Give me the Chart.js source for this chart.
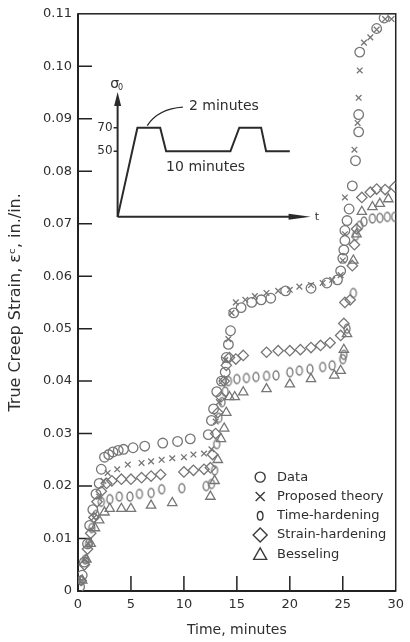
<!DOCTYPE html>
<html><head><meta charset="utf-8">
<script src="https://cdn.jsdelivr.net/npm/chart.js@4.4.1/dist/chart.umd.min.js"></script>
<style>html,body{margin:0;padding:0;background:#fff}canvas{display:block}</style>
</head><body>
<canvas id="c" width="410" height="642"></canvas>
<script>
// ---------- tick labels ----------
const xTickValues = [0, 5, 10, 15, 20, 25, 30];
const xTickLabels = ['0', '5', '10', '15', '20', '25', '30'];
const yTickValues = [0, 0.01, 0.02, 0.03, 0.04, 0.05, 0.06, 0.07, 0.08, 0.09, 0.10, 0.11];
const yTickLabels = ['0', '0.01', '0.02', '0.03', '0.04', '0.05', '0.06', '0.07', '0.08', '0.09', '0.10', '0.11'];

// ---------- series names ----------
const seriesNames = ['Data', 'Proposed theory', 'Time-hardening', 'Strain-hardening', 'Besseling'];

// ---------- series values [time (min), strain] ----------
const dataPoints = [
  [0.15,0.0008],[0.4,0.003],[0.6,0.0055],[0.9,0.009],[1.1,0.0125],[1.4,0.0155],[1.7,0.0185],[2.0,0.0205],
  [2.2,0.0232],[2.5,0.0255],[2.9,0.026],[3.3,0.0265],[3.8,0.0268],[4.3,0.027],[5.2,0.0273],[6.3,0.0276],
  [8.0,0.0282],[9.4,0.0285],[10.6,0.029],[12.3,0.0298],[12.6,0.0325],[12.8,0.0347],[13.1,0.038],[13.55,0.040],
  [13.9,0.0417],[14.0,0.0445],[14.2,0.047],[14.4,0.0496],[14.7,0.053],[15.4,0.054],[16.4,0.055],[17.3,0.0555],
  [18.2,0.0558],[19.6,0.0572],[22.0,0.0577],[23.5,0.0587],[24.5,0.0593],[24.8,0.061],[25.0,0.0634],[25.1,0.065],
  [25.2,0.0668],[25.2,0.0687],[25.4,0.0706],[25.6,0.0728],[25.9,0.0772],[26.2,0.082],[26.5,0.0875],[26.5,0.0908],
  [26.6,0.1027],[28.2,0.1072],[28.9,0.1092]
];
const theoryPoints = [
  [0.3,0.002],[0.7,0.006],[1.0,0.009],[1.5,0.014],[2.0,0.018],[2.4,0.021],[2.8,0.0225],[3.7,0.0232],
  [4.7,0.0241],[6.0,0.0244],[6.9,0.0247],[7.9,0.025],[8.9,0.0253],[10.0,0.0255],[10.9,0.026],[11.9,0.0262],
  [12.6,0.027],[13.0,0.0323],[13.3,0.036],[13.6,0.040],[13.9,0.044],[14.2,0.048],[14.5,0.053],[14.9,0.055],
  [15.8,0.0555],[16.7,0.0562],[17.8,0.0568],[18.9,0.0572],[20.0,0.0574],[20.9,0.058],[22.0,0.0583],[23.1,0.0587],
  [24.0,0.0593],[24.8,0.0602],[25.0,0.063],[25.2,0.068],[25.2,0.075],[26.1,0.0841],[26.4,0.0892],[26.5,0.094],
  [26.6,0.0992],[27.0,0.1045],[27.6,0.1055],[28.2,0.107],[29.0,0.109],[29.6,0.109]
];
const timeHardeningPoints = [
  [0.3,0.002],[0.7,0.006],[1.0,0.009],[1.3,0.012],[1.7,0.0145],[2.2,0.017],[3.0,0.0175],[3.9,0.018],
  [4.9,0.018],[5.8,0.0185],[6.9,0.0187],[7.9,0.0194],[9.8,0.0196],[12.1,0.020],[12.6,0.0204],[12.9,0.023],
  [13.1,0.028],[13.3,0.033],[13.6,0.036],[13.9,0.038],[14.2,0.040],[15.0,0.0404],[15.9,0.0406],[16.8,0.0408],
  [17.8,0.041],[18.7,0.0411],[20.0,0.0417],[20.9,0.042],[21.9,0.0423],[23.1,0.0427],[24.0,0.043],[25.0,0.0442],
  [25.1,0.045],[25.4,0.050],[26.0,0.0568],[26.2,0.0677],[26.6,0.0696],[27.0,0.0704],[27.8,0.071],[28.5,0.0711],
  [29.2,0.0713],[29.9,0.0713]
];
const strainHardeningPoints = [
  [0.3,0.002],[0.6,0.005],[0.9,0.008],[1.2,0.011],[1.5,0.014],[1.8,0.017],[2.2,0.019],[2.7,0.0205],
  [3.2,0.021],[4.1,0.0213],[5.0,0.0213],[6.0,0.0216],[6.9,0.0219],[7.8,0.0222],[10.0,0.0227],[10.9,0.023],
  [11.9,0.0232],[12.5,0.0235],[12.7,0.026],[13.0,0.030],[13.2,0.034],[13.5,0.037],[13.8,0.040],[14.0,0.043],
  [14.3,0.0445],[14.9,0.0442],[15.6,0.0449],[17.8,0.0455],[18.9,0.0458],[20.0,0.0458],[21.0,0.046],[22.0,0.0464],
  [22.9,0.0468],[23.8,0.0473],[24.8,0.0487],[25.1,0.051],[25.2,0.055],[25.7,0.0555],[25.9,0.062],[26.1,0.066],
  [26.3,0.069],[26.8,0.075],[27.6,0.076],[28.2,0.0766],[29.0,0.0765],[29.9,0.077]
];
const besselingPoints = [
  [0.4,0.002],[0.8,0.006],[1.2,0.009],[1.6,0.012],[2.0,0.0135],[2.5,0.015],[3.0,0.0157],[4.1,0.0157],
  [5.0,0.0157],[6.9,0.0163],[8.9,0.0168],[12.5,0.018],[12.9,0.021],[13.2,0.025],[13.5,0.029],[13.8,0.031],
  [14.0,0.034],[14.3,0.037],[14.8,0.037],[15.6,0.0379],[17.8,0.0385],[20.0,0.0394],[22.0,0.0404],[24.2,0.0411],
  [24.8,0.042],[25.1,0.046],[25.4,0.049],[26.0,0.063],[26.3,0.068],[26.8,0.0723],[27.8,0.0732],[28.5,0.0738],
  [29.3,0.0747]
];

// ---------- styles ----------
const FONT = 'DejaVu Sans';
const TEXT = '#2e2e2e';
const MARK = '#767676';

function ellipseMarker(w, h, lw) {
  const c = document.createElement('canvas');
  c.width = w + 4; c.height = h + 4;
  const g = c.getContext('2d');
  g.strokeStyle = MARK; g.lineWidth = lw;
  g.beginPath(); g.ellipse(c.width / 2, c.height / 2, w / 2, h / 2, 0, 0, Math.PI * 2); g.stroke();
  return c;
}
const thMarker = ellipseMarker(6, 9, 1.3);

const toXY = arr => arr.map(p => ({x: p[0], y: p[1]}));
function ds(label, pts, style, r) {
  return {label, data: toXY(pts), pointStyle: style, pointRadius: r, pointHoverRadius: r,
    borderColor: MARK, backgroundColor: 'rgba(0,0,0,0)', pointBorderWidth: 1.3, showLine: false};
}

// ---------- inset geometry (in main-axis units: minutes, strain) ----------
const inset = {
  origin: [3.74, 0.0713], yTop: 0.0951, xEnd: 21.96,
  path: [[3.74,0.0713],[5.61,0.0883],[7.76,0.0883],[8.32,0.0838],[14.39,0.0838],[15.23,0.0883],[17.29,0.0883],[17.76,0.0838],[20.0,0.0838]],
  levels: [[0.0883,'70'],[0.0838,'50']]
};

const decor = {
  id: 'decor',
  beforeDatasetsDraw(chart) {
    const {ctx, chartArea: a, scales: {x, y}} = chart;
    const P = (m, s) => [x.getPixelForValue(m), y.getPixelForValue(s)];
    ctx.save();
    ctx.strokeStyle = '#222'; ctx.lineCap = 'butt';
    // inner ticks
    ctx.lineWidth = 1.5; ctx.beginPath();
    xTickValues.slice(1, -1).forEach(v => { const px = x.getPixelForValue(v); ctx.moveTo(px, a.bottom); ctx.lineTo(px, a.bottom - 15); });
    yTickValues.slice(1, -1).forEach(v => { const py = y.getPixelForValue(v); ctx.moveTo(a.left, py); ctx.lineTo(a.left + 14, py); });
    ctx.stroke();
    // frame
    ctx.lineWidth = 1.5; ctx.strokeRect(a.left, a.top, a.right - a.left, a.bottom - a.top);
    ctx.lineWidth = 2; ctx.beginPath(); ctx.moveTo(a.left, a.top); ctx.lineTo(a.left, a.bottom); ctx.lineTo(a.right, a.bottom); ctx.stroke();

    // inset
    const o = P(inset.origin[0], inset.origin[1]);
    const top = P(inset.origin[0], inset.yTop);
    const end = P(inset.xEnd, inset.origin[1]);
    ctx.strokeStyle = '#2a2a2a'; ctx.fillStyle = '#2a2a2a'; ctx.lineWidth = 2;
    ctx.beginPath(); ctx.moveTo(o[0], o[1]); ctx.lineTo(top[0], top[1] + 10); ctx.stroke();
    ctx.beginPath(); ctx.moveTo(top[0], top[1]); ctx.lineTo(top[0] - 3.5, top[1] + 14); ctx.lineTo(top[0] + 3.5, top[1] + 14); ctx.closePath(); ctx.fill();
    ctx.beginPath(); ctx.moveTo(o[0], o[1]); ctx.lineTo(end[0] - 12, end[1]); ctx.stroke();
    ctx.beginPath(); ctx.moveTo(end[0], end[1]); ctx.lineTo(end[0] - 22, end[1] - 3); ctx.lineTo(end[0] - 22, end[1] + 3); ctx.closePath(); ctx.fill();
    ctx.beginPath();
    inset.path.forEach((p, i) => { const q = P(p[0], p[1]); if (i) ctx.lineTo(q[0], q[1]); else ctx.moveTo(q[0], q[1]); });
    ctx.stroke();
    ctx.lineWidth = 1.5; ctx.beginPath();
    inset.levels.forEach(l => { const q = P(inset.origin[0], l[0]); ctx.moveTo(q[0] - 4, q[1]); ctx.lineTo(q[0], q[1]); });
    ctx.stroke();
    // leader line for "2 minutes"
    const l1 = P(6.54, 0.0887), l2 = P(9.9, 0.0922), lc = P(7.6, 0.0919);
    ctx.lineWidth = 1.3; ctx.beginPath(); ctx.moveTo(l1[0], l1[1]); ctx.quadraticCurveTo(lc[0], lc[1], l2[0], l2[1]); ctx.stroke();

    ctx.fillStyle = TEXT; ctx.textBaseline = 'middle';
    ctx.font = '12px "' + FONT + '"'; ctx.textAlign = 'right';
    inset.levels.forEach(l => { const q = P(inset.origin[0], l[0]); ctx.fillText(l[1], q[0] - 5, q[1]); });
    ctx.textAlign = 'left'; ctx.font = '14px "' + FONT + '"';
    let q = P(10.47, 0.0923); ctx.fillText('2 minutes', q[0], q[1]);
    q = P(8.32, 0.0808); ctx.fillText('10 minutes', q[0], q[1]);
    q = P(22.35, 0.0713); ctx.font = '11px "' + FONT + '"'; ctx.fillText('t', q[0], q[1]);
    q = P(3.74, 0.0966); ctx.font = '14px "' + FONT + '"'; ctx.textAlign = 'center'; ctx.fillText('σ', q[0] - 3, q[1]);
    ctx.font = '8px "' + FONT + '"'; ctx.fillText('0', q[0] + 3, q[1] + 4);
    ctx.restore();
  },
  afterDatasetsDraw(chart) {
    // legend
    const {ctx, scales: {x, y}} = chart;
    const sx = x.getPixelForValue(17.2), tx = x.getPixelForValue(18.8);
    const y0 = y.getPixelForValue(0.0217);
    const step = 19.3;
    ctx.save();
    ctx.strokeStyle = '#3a3a3a'; ctx.lineWidth = 1.4;
    for (let i = 0; i < seriesNames.length; i++) {
      const cy = y0 + i * step;
      ctx.beginPath();
      if (i === 0) { ctx.arc(sx, cy, 5, 0, Math.PI * 2); }
      else if (i === 1) { ctx.moveTo(sx - 4.5, cy - 4.5); ctx.lineTo(sx + 4.5, cy + 4.5); ctx.moveTo(sx + 4.5, cy - 4.5); ctx.lineTo(sx - 4.5, cy + 4.5); }
      else if (i === 2) { ctx.ellipse(sx, cy, 2.8, 4.3, 0, 0, Math.PI * 2); }
      else if (i === 3) { ctx.moveTo(sx, cy - 7); ctx.lineTo(sx + 7, cy); ctx.lineTo(sx, cy + 7); ctx.lineTo(sx - 7, cy); ctx.closePath(); }
      else { ctx.moveTo(sx, cy - 6.5); ctx.lineTo(sx + 6.5, cy + 5); ctx.lineTo(sx - 6.5, cy + 5); ctx.closePath(); }
      ctx.stroke();
    }
    ctx.fillStyle = TEXT; ctx.font = '13px "' + FONT + '"'; ctx.textAlign = 'left'; ctx.textBaseline = 'middle';
    seriesNames.forEach((n, i) => ctx.fillText(n, tx, y0 + i * step));
    ctx.restore();
  }
};

new Chart(document.getElementById('c'), {
  type: 'scatter',
  data: {
    datasets: [
      ds(seriesNames[0], dataPoints, 'circle', 4.8),
      ds(seriesNames[1], theoryPoints, 'crossRot', 4),
      ds(seriesNames[2], timeHardeningPoints, thMarker, 4),
      ds(seriesNames[3], strainHardeningPoints, 'rectRot', 5.2),
      ds(seriesNames[4], besselingPoints, 'triangle', 5.4)
    ]
  },
  options: {
    responsive: false, animation: false, devicePixelRatio: 1,
    layout: {padding: {left: 0, right: 11, top: 8, bottom: 0}},
    plugins: {legend: {display: false}, tooltip: {enabled: false}},
    scales: {
      x: {
        type: 'linear', min: 0, max: 30,
        afterBuildTicks: s => { s.ticks = xTickValues.map(v => ({value: v})); },
        afterFit: s => { s.height = 51; },
        grid: {display: false, drawTicks: false, tickLength: 0}, border: {display: false},
        ticks: {callback: (v, i) => xTickLabels[i], color: TEXT, font: {family: FONT, size: 13}, padding: 6, maxRotation: 0, autoSkip: false},
        title: {display: true, text: 'Time, minutes', color: TEXT, font: {family: FONT, size: 14}, padding: {top: 4, bottom: 3}}
      },
      y: {
        type: 'linear', min: 0, max: 0.11,
        afterBuildTicks: s => { s.ticks = yTickValues.map(v => ({value: v})); },
        afterFit: s => { s.width = 78; },
        grid: {display: false, drawTicks: false, tickLength: 0}, border: {display: false},
        ticks: {callback: (v, i) => yTickLabels[i], color: TEXT, font: {family: FONT, size: 13}, padding: 6, autoSkip: false},
        title: {display: true, text: 'True Creep Strain, εᶜ, in./in.', color: TEXT, font: {family: FONT, size: 16}, padding: {top: 6, bottom: 0}}
      }
    }
  },
  plugins: [decor]
});
</script>
</body></html>
